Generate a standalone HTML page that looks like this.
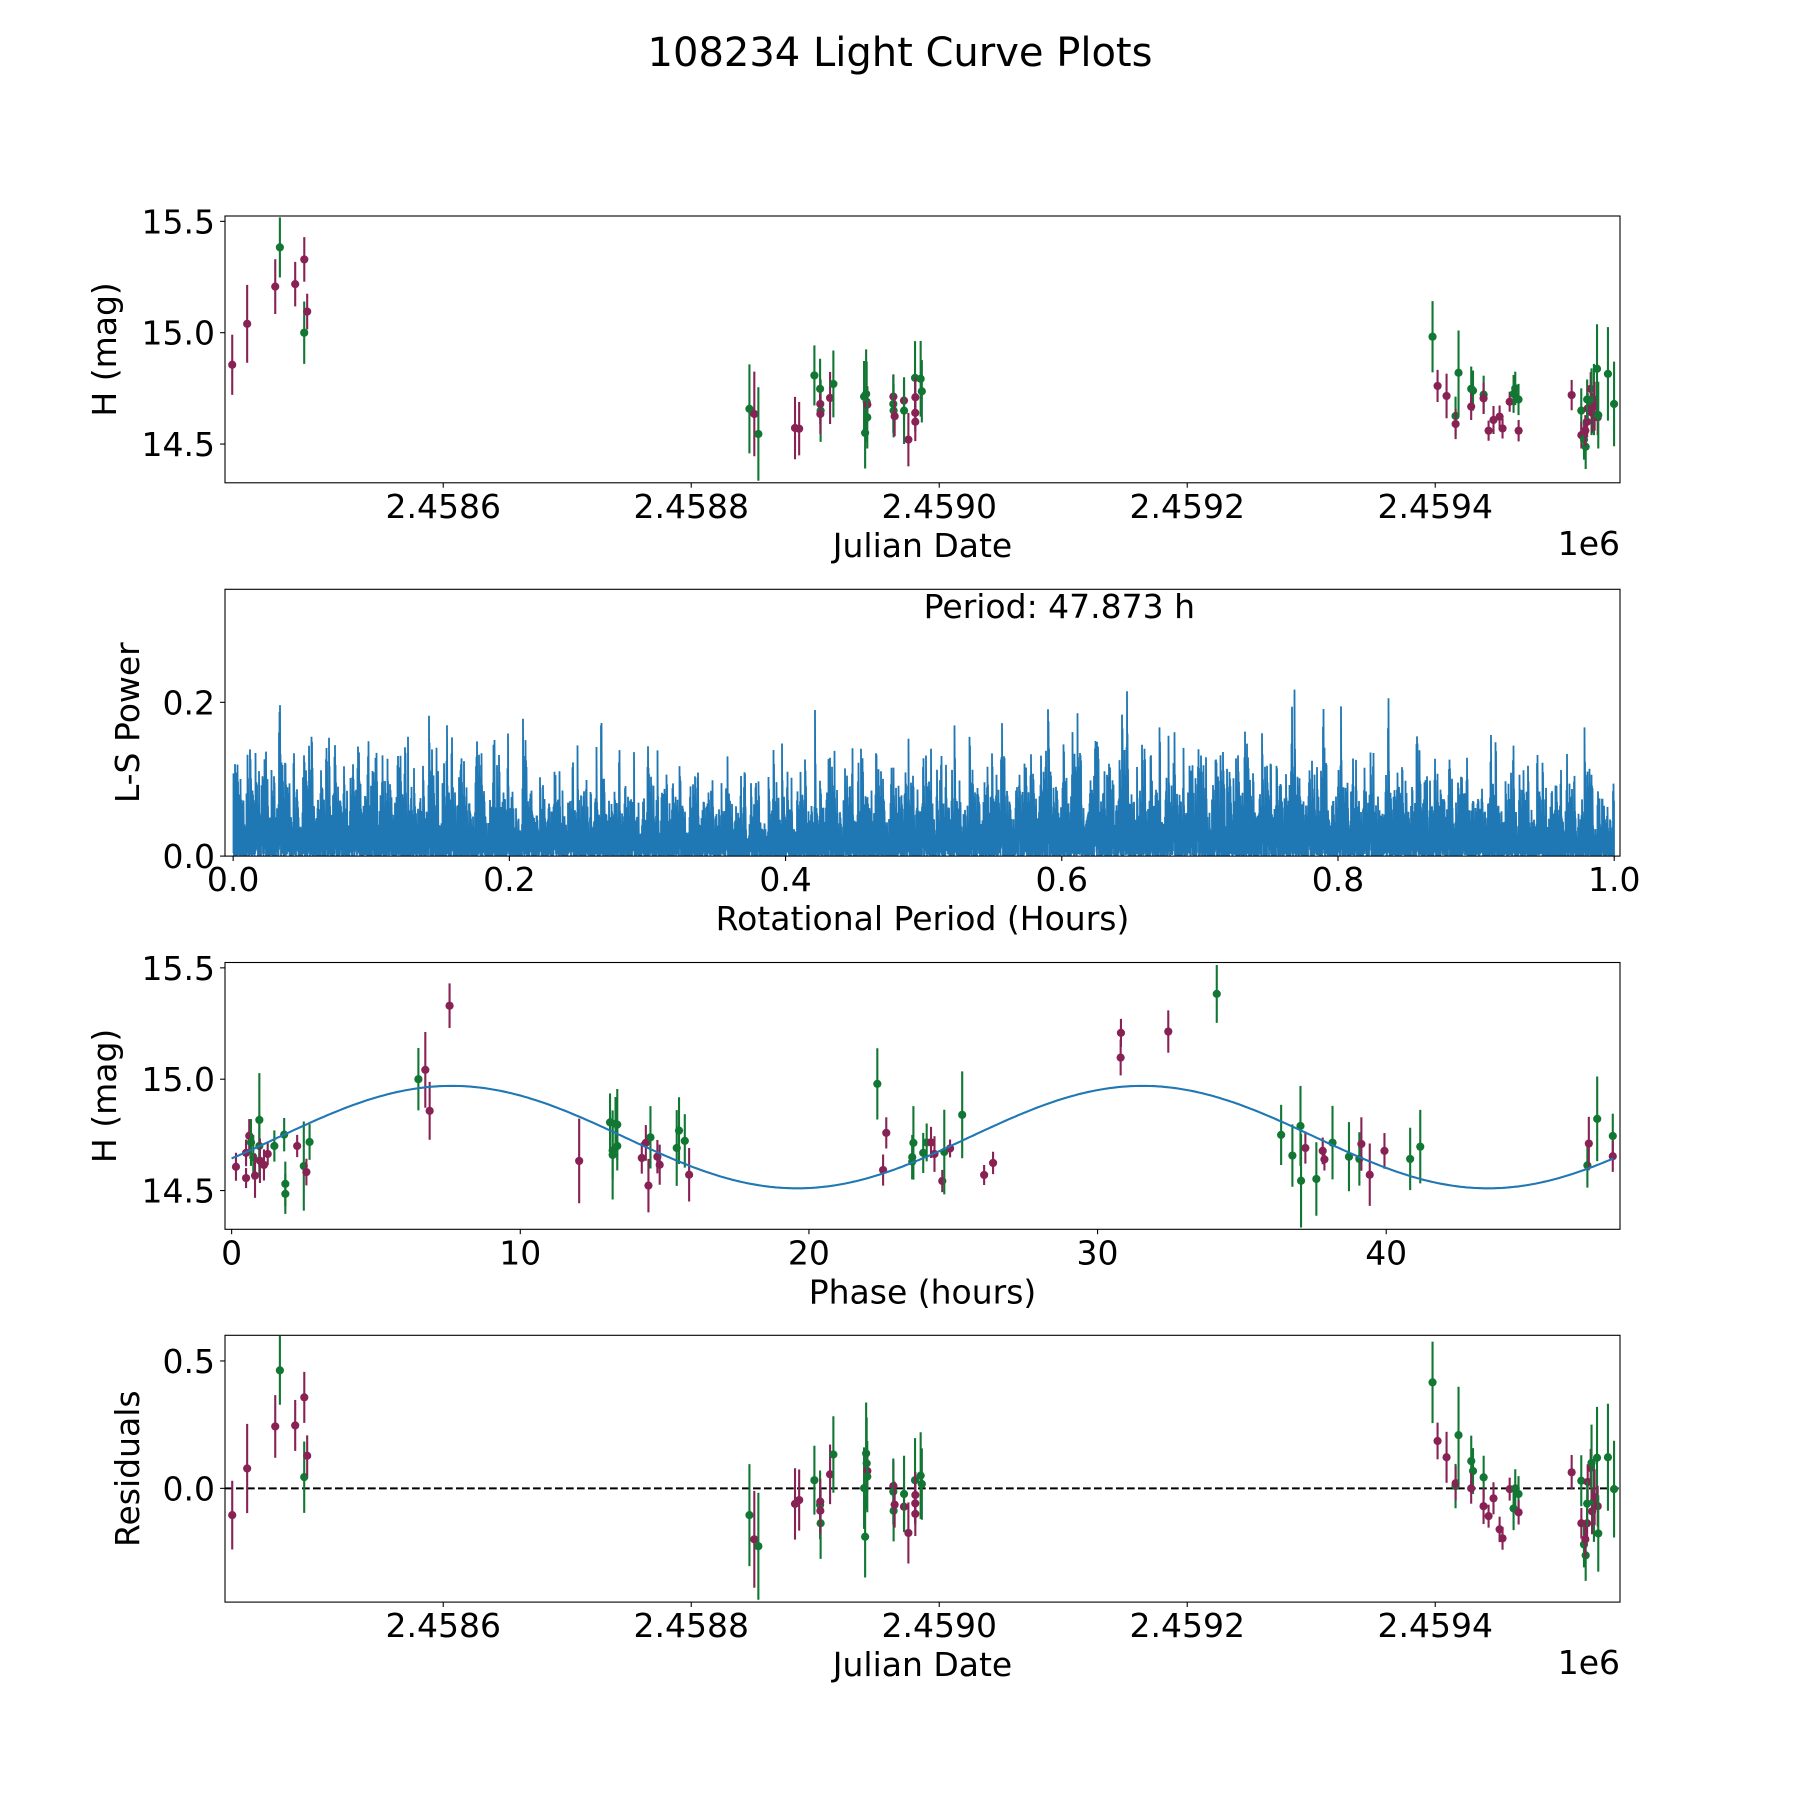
<!DOCTYPE html>
<html>
<head>
<meta charset="utf-8">
<style>
html,body{margin:0;padding:0;background:#fff;}
svg{display:block;font-family:"DejaVu Sans","Liberation Sans",sans-serif;}
</style>
</head>
<body>
<svg id="fig" width="1800" height="1800" viewBox="0 0 1800 1800" xmlns="http://www.w3.org/2000/svg">
<rect x="0" y="0" width="1800" height="1800" fill="#fff"/>
<text x="900" y="66" font-size="40" text-anchor="middle">108234 Light Curve Plots</text>
</svg>
<script>
// ---------- data: light curve (Julian Date, H mag, error, band, residual) ----------
const jd = [2458429.83,2458441.87,2458464.52,2458468.26,2458480.61,2458487.94,2458487.88,2458490.27,
2458846.93,2458850.86,2458854.14,2458883.69,2458887.03,2458899.32,2458903.91,2458904.07,2458904.34,2458904.12,2458911.97,2458914.63,
2458939.38,2458940.23,2458941.04,2458941.47,2458942.02,2458941.96,2458963.04,2458962.97,2458963.21,2458964.03,2458971.57,2458971.64,2458975.12,
2458980.48,2458980.73,2458980.66,2458980.71,2458985.02,2458985.96,
2459397.83,2459401.88,2459409.13,2459416.37,2459416.44,2459418.79,2459429.03,2459430.46,2459428.98,2459439.04,2459438.97,2459443.02,2459446.98,
2459451.91,2459454.27,2459460.03,2459463.18,2459464.53,2459467.16,2459467.24,2459510.02,2459517.77,2459517.84,2459521.32,2459519.96,2459521.04,
2459522.47,2459522.96,2459522.53,2459525.37,2459526.04,2459526.48,2459527.97,2459528.53,2459530.47,2459531.02,2459531.48,2459539.27,2459544.22];
const mag = [14.856,15.04,15.207,15.383,15.218,15.329,15.0,15.095,
14.658,14.635,14.545,14.572,14.569,14.808,14.748,14.68,14.65,14.635,14.707,14.77,
14.713,14.55,14.725,14.69,14.677,14.62,14.713,14.68,14.65,14.625,14.695,14.65,14.52,
14.797,14.71,14.64,14.6,14.793,14.737,
14.982,14.761,14.716,14.626,14.59,14.82,14.748,14.74,14.668,14.722,14.705,14.56,14.608,
14.623,14.57,14.69,14.725,14.75,14.7,14.56,14.72,14.65,14.54,14.488,14.52,14.56,
14.6,14.66,14.7,14.748,14.69,14.64,14.7,14.67,14.838,14.62,14.63,14.815,14.68];
const magErr = [.135,.175,.123,.135,.1,.1,.14,.08,
.2,.19,.21,.14,.12,.135,.135,.09,.14,.09,.117,.15,
.16,.16,.2,.18,.08,.14,.1,.13,.12,.09,.09,.15,.12,
.165,.09,.083,.087,.17,.14,
.16,.072,.1,.087,.068,.19,.1,.09,.06,.085,.07,.045,.063,
.05,.045,.045,.085,.075,.07,.048,.068,.1,.06,.1,.09,.07,
.07,.07,.09,.075,.15,.09,.16,.11,.2,.08,.15,.21,.19];
const band = ["m","m","m","g","m","m","g","m",
"g","m","g","m","m","g","g","m","g","m","m","g",
"g","g","g","g","m","g","m","g","g","m","m","g","m",
"g","m","m","m","g","g",
"g","m","m","g","m","g","g","g","m","g","m","m","m",
"m","m","m","g","g","g","m","m","g","m","g","g","m",
"m","m","g","m","g","m","g","m","g","m","g","g","g"];
const resid = [-.105,.078,.243,.463,.247,.357,.044,.128,
-.105,-.2,-.227,-.061,-.046,.032,-.065,-.052,-.137,-.088,.055,.133,
.001,-.19,.137,.098,.068,.046,.009,-.013,-.088,-.064,-.072,-.022,-.175,
.032,-.026,-.059,-.1,.05,.017,
.416,.186,.122,.009,.02,.209,.107,.068,0,.043,-.07,-.109,-.039,
-.161,-.196,-.003,-.079,0,-.022,-.094,.063,.03,-.137,-.263,-.22,-.2,
-.137,.025,-.06,.08,.1,-.09,-.05,-.035,.12,-.07,-.177,.122,-.003];

// ---------- data: phase-folded curve ----------
const phase = [0.15,0.5,0.5,0.61,0.67,0.75,0.81,0.96,0.96,0.98,1.12,1.25,1.48,1.82,1.86,1.86,2.27,2.5,2.59,2.7,
6.47,6.71,6.86,7.55,12.04,13.11,13.2,13.2,13.3,13.36,13.36,14.21,14.35,14.44,14.51,14.75,14.83,15.42,15.5,15.7,15.85,
22.37,22.68,22.57,23.62,23.58,23.58,23.96,24.08,24.23,24.35,24.62,24.69,24.89,25.31,26.07,26.38,30.8,30.81,32.45,34.13,
36.36,36.75,37.03,37.05,37.2,37.8,37.86,37.58,38.14,38.71,39.07,39.14,39.43,39.94,40.83,41.18,46.97,47.02,47.31,47.85,47.85];
const phaseMag = [14.607,14.556,14.669,14.746,14.716,14.65,14.567,14.817,14.7,14.634,14.615,14.664,14.7,14.751,14.53,14.485,14.7,14.61,14.583,14.718,
15.0,15.042,14.858,15.33,14.633,14.806,14.68,14.66,14.80,14.796,14.7,14.646,14.714,14.522,14.739,14.652,14.616,14.691,14.769,14.723,14.571,
14.979,14.759,14.592,14.714,14.65,14.63,14.669,14.716,14.716,14.664,14.543,14.673,14.689,14.84,14.57,14.624,15.097,15.208,15.214,15.383,
14.75,14.657,14.79,14.544,14.691,14.678,14.64,14.552,14.715,14.652,14.642,14.709,14.571,14.678,14.642,14.697,14.613,14.711,14.822,14.745,14.654];
const phaseErr = [.063,.045,.06,.075,.105,.1,.1,.21,.14,.1,.07,.05,.07,.075,.1,.09,.05,.2,.06,.08,
.14,.17,.13,.1,.19,.13,.13,.2,.12,.16,.11,.07,.08,.12,.14,.075,.09,.17,.15,.12,.12,
.16,.07,.07,.165,.1,.08,.09,.085,.07,.08,.05,.19,.04,.195,.045,.05,.08,.063,.095,.13,
.135,.14,.18,.21,.07,.06,.05,.165,.165,.155,.12,.12,.14,.08,.14,.165,.1,.12,.19,.1,.07];
const phaseBand = ["m","m","m","m","g","g","m","g","g","m","m","m","g","g","g","g","m","g","m","g",
"g","m","m","m","m","g","g","g","g","g","g","m","m","m","g","m","m","g","g","g","m",
"g","m","m","g","g","g","g","g","m","m","m","g","m","g","m","m","m","m","m","g",
"g","g","g","g","m","m","m","g","g","g","g","m","m","m","g","g","g","m","g","g","m"];

// ---------- model ----------
const periodHours = 47.873;
const modelMean = 14.74;
const modelAmp = 0.23;
const modelPeak = 7.62;

// ---------- tick labels ----------
const jdTicks = [2458600,2458800,2459000,2459200,2459400];
const jdTickLabels = ["2.4586","2.4588","2.4590","2.4592","2.4594"];
const magTicks = [14.5,15.0,15.5];
const magTickLabels = ["14.5","15.0","15.5"];
const freqTicks = [0,0.2,0.4,0.6,0.8,1.0];
const freqTickLabels = ["0.0","0.2","0.4","0.6","0.8","1.0"];
const powTicks = [0,0.2];
const powTickLabels = ["0.0","0.2"];
const phaseTicks = [0,10,20,30,40];
const phaseTickLabels = ["0","10","20","30","40"];
const resTicks = [0,0.5];
const resTickLabels = ["0.0","0.5"];

const NS = "http://www.w3.org/2000/svg";
const fig = document.getElementById("fig");
const COL = {m:"#882255", g:"#117733"};
const FS = 33;

function el(tag, attrs, parent){
  const e = document.createElementNS(NS, tag);
  for (const k in attrs) e.setAttribute(k, attrs[k]);
  (parent||fig).appendChild(e);
  return e;
}

const L = 225, W = 1395, H = 266.8;
function makeAxes(name, top, xmin, xmax, ymin, ymax){
  const g = el("g", {});
  
  
  const sx = v => L + (v - xmin) / (xmax - xmin) * W;
  const sy = v => top + H - (v - ymin) / (ymax - ymin) * H;
  const cp = el("clipPath", {id: name + "-clip"}, g);
  el("rect", {x: L, y: top, width: W, height: H}, cp);
  const plot = el("g", {"clip-path": "url(#" + name + "-clip)"}, g);
  return {g, plot, sx, sy, top, bottom: top + H};
}
function frame(ax){
  const r = el("rect", {x: L, y: ax.top, width: W, height: H, fill: "none", stroke: "#000", "stroke-width": 1.1}, ax.g);
  
  
}
function xTicks(ax, ticks, labels){
  ticks.forEach((t, i) => {
    const x = ax.sx(t);
    el("line", {x1: x, x2: x, y1: ax.bottom, y2: ax.bottom + 4.9, stroke: "#000", "stroke-width": 1.1}, ax.g);
    const tx = el("text", {x: x, y: ax.bottom + 35, "font-size": FS, "text-anchor": "middle"}, ax.g);
    
    
    tx.textContent = labels[i];
  });
}
function yTicks(ax, ticks, labels){
  ticks.forEach((t, i) => {
    const y = ax.sy(t);
    el("line", {x1: L - 4.9, x2: L, y1: y, y2: y, stroke: "#000", "stroke-width": 1.1}, ax.g);
    const tx = el("text", {x: L - 10, y: y + 12, "font-size": FS, "text-anchor": "end"}, ax.g);
    
    
    tx.textContent = labels[i];
  });
}
function xLabel(ax, txt, name){
  const t = el("text", {x: L + W / 2, y: ax.bottom + 74, "font-size": FS, "text-anchor": "middle"}, ax.g);
  
  
  t.textContent = txt;
}
function yLabel(ax, txt, x, name){
  const cy = ax.top + H / 2;
  const t = el("text", {x: x, y: cy, "font-size": FS, "text-anchor": "middle", transform: "rotate(-90 " + x + " " + cy + ")"}, ax.g);
  
  
  t.textContent = txt;
}
function offsetText(ax){
  const t = el("text", {x: L + W, y: ax.bottom + 72, "font-size": FS, "text-anchor": "end"}, ax.g);
  
  
  t.textContent = "1e6";
}
function errPoints(ax, xs, ys, es, bs){
  for (let i = 0; i < xs.length; i++){
    const x = ax.sx(xs[i]), c = COL[bs[i]];
    const ln = el("line", {x1: x, x2: x, y1: ax.sy(ys[i] - es[i]), y2: ax.sy(ys[i] + es[i]), stroke: c, "stroke-width": 2.1}, ax.plot);
    
    
    const pt = el("circle", {cx: x, cy: ax.sy(ys[i]), r: 4.1, fill: c}, ax.plot);
    
    
  }
}

// ---------- Panel 1 ----------
const jdMin = 2458424, jdMax = 2459549;
const a1 = makeAxes("light-curve-panel", 216, jdMin, jdMax, 14.326, 15.524);
errPoints(a1, jd, mag, magErr, band);
frame(a1); xTicks(a1, jdTicks, jdTickLabels); yTicks(a1, magTicks, magTickLabels);
xLabel(a1, "Julian Date", "x-axis-title"); yLabel(a1, "H (mag)", 116, "y-axis-title"); offsetText(a1);

// ---------- Panel 2: Lomb-Scargle periodogram computed from the light curve ----------
const a2 = makeAxes("periodogram-panel", 589.3, -0.0059, 1.0042, 0, 0.347);
(function(){
  const n = jd.length;
  let mean = 0; for (let i = 0; i < n; i++) mean += mag[i]; mean /= n;
  const t = jd.map(v => (v - jd[0]) * 24), y = mag.map(v => v - mean);
  let yy = 0; for (let i = 0; i < n; i++) yy += y[i] * y[i];
  const NF = 60000, f0 = 0.0005, f1 = 1.0;
  const cols = 2 * W, mn = new Array(cols).fill(Infinity), mx = new Array(cols).fill(-Infinity);
  const cw = new Float64Array(n), sw = new Float64Array(n);
  for (let k = 0; k < NF; k++){
    const f = f0 + (f1 - f0) * k / (NF - 1), w = 2 * Math.PI * f;
    let s2 = 0, c2 = 0;
    for (let i = 0; i < n; i++){
      const a = w * t[i]; cw[i] = Math.cos(a); sw[i] = Math.sin(a);
      s2 += 2 * sw[i] * cw[i]; c2 += cw[i] * cw[i] - sw[i] * sw[i];
    }
    const wt = Math.atan2(s2, c2) / 2, ct = Math.cos(wt), st = Math.sin(wt);
    let C = 0, S = 0, CC = 0, SS = 0;
    for (let i = 0; i < n; i++){
      const c = cw[i] * ct + sw[i] * st, s = sw[i] * ct - cw[i] * st;
      C += y[i] * c; S += y[i] * s; CC += c * c; SS += s * s;
    }
    const P = (C * C / CC + S * S / SS) / yy;
    const col = Math.max(0, Math.min(cols - 1, Math.floor((a2.sx(f) - L) * 2)));
    if (P < mn[col]) mn[col] = P;
    if (P > mx[col]) mx[col] = P;
  }
  let d = "";
  for (let c = 0; c < cols; c++){
    if (mn[c] === Infinity) continue;
    const x = (L + c / 2).toFixed(1);
    d += (d ? "L" : "M") + x + "," + a2.sy(mn[c]).toFixed(1) + "L" + x + "," + a2.sy(mx[c]).toFixed(1);
  }
  const p = el("path", {d: d, fill: "none", stroke: "#1f77b4", "stroke-width": 1.8}, a2.plot);
  
  
})();
frame(a2); xTicks(a2, freqTicks, freqTickLabels); yTicks(a2, powTicks, powTickLabels);
xLabel(a2, "Rotational Period (Hours)", "x-axis-title"); yLabel(a2, "L-S Power", 139, "y-axis-title");
{
  const t = el("text", {x: a2.sx(0.5), y: 618, "font-size": FS, "text-anchor": "start"}, a2.g);
  
  
  t.textContent = "Period: " + periodHours.toFixed(3) + " h";
}

// ---------- Panel 3: phase-folded ----------
const a3 = makeAxes("phase-panel", 962.5, -0.23, 48.1, 14.326, 15.524);
errPoints(a3, phase, phaseMag, phaseErr, phaseBand);
{
  let d = "";
  for (let k = 0; k <= 480; k++){
    const ph = periodHours * k / 480;
    const m = modelMean + modelAmp * Math.cos(2 * Math.PI * (ph - modelPeak) / (periodHours / 2));
    d += (k ? "L" : "M") + a3.sx(ph).toFixed(1) + "," + a3.sy(m).toFixed(1);
  }
  const p = el("path", {d: d, fill: "none", stroke: "#1f77b4", "stroke-width": 2.1}, a3.plot);
  
  
}
frame(a3); xTicks(a3, phaseTicks, phaseTickLabels); yTicks(a3, magTicks, magTickLabels);
xLabel(a3, "Phase (hours)", "x-axis-title"); yLabel(a3, "H (mag)", 116, "y-axis-title");

// ---------- Panel 4: residuals ----------
const a4 = makeAxes("residuals-panel", 1335.3, jdMin, jdMax, -0.4464, 0.6007);
{
  const z = el("line", {x1: L, x2: L + W, y1: a4.sy(0), y2: a4.sy(0), stroke: "#000", "stroke-width": 2, "stroke-dasharray": "7.7,3.3"}, a4.plot);
  
  
}
errPoints(a4, jd, resid, magErr, band);
frame(a4); xTicks(a4, jdTicks, jdTickLabels); yTicks(a4, resTicks, resTickLabels);
xLabel(a4, "Julian Date", "x-axis-title"); yLabel(a4, "Residuals", 139, "y-axis-title"); offsetText(a4);
</script>
</body>
</html>
